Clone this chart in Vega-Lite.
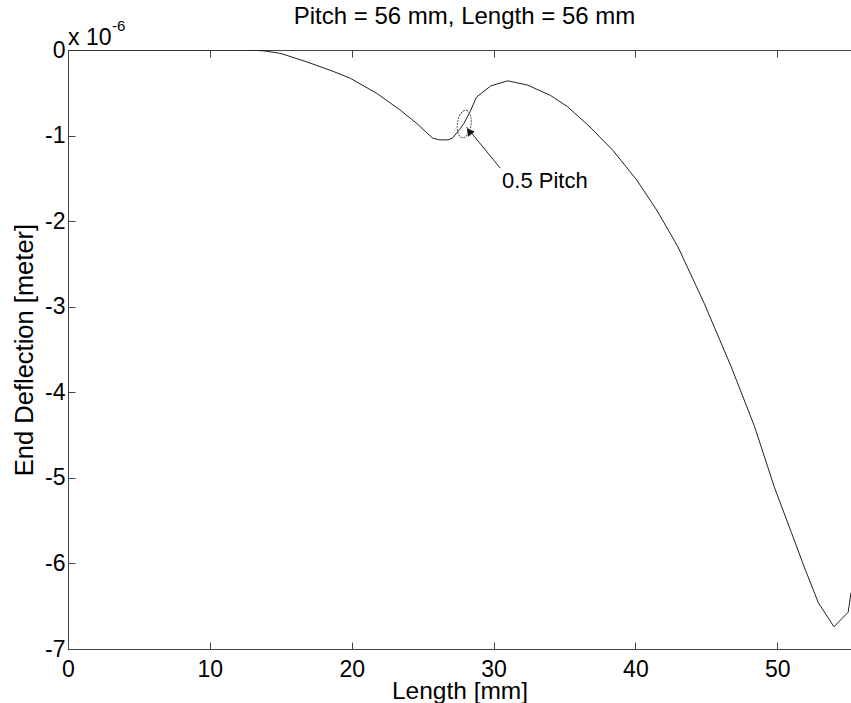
{
  "$schema": "https://vega.github.io/schema/vega-lite/v6.json",
  "autosize": "none",
  "width": 783,
  "height": 599,
  "padding": {"left": 68, "top": 50, "right": 0, "bottom": 54},
  "background": "white",
  "config": {
    "font": "Liberation Sans",
    "view": {"stroke": "#444", "strokeWidth": 1},
    "axis": {
      "domainColor": "#444",
      "tickColor": "#444",
      "labelColor": "black",
      "labelFont": "Liberation Sans",
      "labelFontSize": 23,
      "titleFont": "Liberation Sans",
      "titleFontSize": 24.5,
      "titleFontWeight": "normal",
      "titleColor": "black",
      "grid": false,
      "tickSize": -7,
      "labelFlush": false,
      "labelOverlap": false
    }
  },
  "title": {
    "text": "Pitch = 56 mm, Length = 56 mm",
    "fontSize": 24,
    "fontWeight": "normal",
    "font": "Liberation Sans",
    "color": "black",
    "anchor": "middle",
    "baseline": "alphabetic",
    "offset": -29,
    "dx": 5
  },
  "resolve": {"axis": {"x": "independent"}},
  "encoding": {
    "y": {
      "field": "deflection",
      "type": "quantitative",
      "scale": {"domain": [-7, 0], "nice": false, "zero": false},
      "axis": {
        "title": "End Deflection [meter]",
        "titleFontSize": 25.5,
        "values": [-7, -6, -5, -4, -3, -2, -1, 0],
        "labelExpr": "'' + datum.value",
        "labelPadding": 10,
        "titlePadding": 7
      }
    }
  },
  "layer": [
    {
      "data": {"values": [
        {"length": 0, "deflection": 0},
        {"length": 6, "deflection": 0},
        {"length": 12.6, "deflection": 0},
        {"length": 13.8, "deflection": -0.01},
        {"length": 15.0, "deflection": -0.04},
        {"length": 16.85, "deflection": -0.14},
        {"length": 18.7, "deflection": -0.25},
        {"length": 19.9, "deflection": -0.33},
        {"length": 21.8, "deflection": -0.51},
        {"length": 23.4, "deflection": -0.70},
        {"length": 24.6, "deflection": -0.86},
        {"length": 25.7, "deflection": -1.03},
        {"length": 26.2, "deflection": -1.05},
        {"length": 26.8, "deflection": -1.05},
        {"length": 27.1, "deflection": -1.03},
        {"length": 27.6, "deflection": -0.93},
        {"length": 27.9, "deflection": -0.86},
        {"length": 28.35, "deflection": -0.72},
        {"length": 28.8, "deflection": -0.55},
        {"length": 29.8, "deflection": -0.42},
        {"length": 31.0, "deflection": -0.36},
        {"length": 32.4, "deflection": -0.41},
        {"length": 34.0, "deflection": -0.53},
        {"length": 35.2, "deflection": -0.66},
        {"length": 36.8, "deflection": -0.90},
        {"length": 38.4, "deflection": -1.17},
        {"length": 40.1, "deflection": -1.52},
        {"length": 41.5, "deflection": -1.87},
        {"length": 43.0, "deflection": -2.30},
        {"length": 44.85, "deflection": -2.96},
        {"length": 46.75, "deflection": -3.70},
        {"length": 48.4, "deflection": -4.40},
        {"length": 49.8, "deflection": -5.11},
        {"length": 51.0, "deflection": -5.64},
        {"length": 51.9, "deflection": -6.04},
        {"length": 52.9, "deflection": -6.46},
        {"length": 54.0, "deflection": -6.74},
        {"length": 55.0, "deflection": -6.57},
        {"length": 55.2, "deflection": -6.34}
      ]},
      "mark": {"type": "line", "color": "#222", "strokeWidth": 1, "clip": true},
      "encoding": {
        "x": {
          "field": "length",
          "type": "quantitative",
          "scale": {"domain": [0, 55.2], "nice": false, "zero": false},
          "axis": {
            "title": "Length [mm]",
            "orient": "bottom",
            "values": [0, 10, 20, 30, 40, 50],
            "labelPadding": 16,
            "titlePadding": -2
          }
        }
      }
    },
    {
      "data": {"values": [{"length": 27.93, "deflection": -0.865}]},
      "mark": {
        "type": "point",
        "shape": "M0,-1A0.5,1 0 1,1 0,1A0.5,1 0 1,1 0,-1Z",
        "size": 760,
        "angle": 8,
        "filled": false,
        "stroke": "#555",
        "strokeWidth": 1,
        "strokeDash": [2, 1],
        "opacity": 1
      },
      "encoding": {
        "x": {
          "field": "length",
          "type": "quantitative",
          "axis": {
            "orient": "top",
            "title": null,
            "labels": false,
            "values": [0, 10, 20, 30, 40, 50],
            "domain": false
          }
        }
      }
    },
    {
      "data": {"values": [{"length": 30.47, "deflection": -1.38, "length2": 28.1, "deflection2": -0.9}]},
      "mark": {"type": "rule", "color": "#222", "strokeWidth": 1},
      "encoding": {
        "x": {"field": "length", "type": "quantitative", "axis": null},
        "x2": {"field": "length2"},
        "y2": {"field": "deflection2"}
      }
    },
    {
      "data": {"values": [{"length": 28.28, "deflection": -0.95}]},
      "mark": {"type": "point", "shape": "triangle-up", "size": 70, "angle": 321, "filled": true, "color": "#111", "opacity": 1},
      "encoding": {
        "x": {"field": "length", "type": "quantitative", "axis": null}
      }
    },
    {
      "data": {"values": [{"length": 30.6, "deflection": -1.61, "label": "0.5 Pitch"}]},
      "mark": {"type": "text", "align": "left", "baseline": "alphabetic", "fontSize": 22, "font": "Liberation Sans", "color": "black"},
      "encoding": {
        "x": {"field": "length", "type": "quantitative", "axis": null},
        "text": {"field": "label"}
      }
    },
    {
      "data": {"values": [{"length": 0, "deflection": 0, "label": "x 10"}]},
      "mark": {"type": "text", "align": "left", "baseline": "alphabetic", "fontSize": 23, "font": "Liberation Sans", "color": "black", "dy": -5, "clip": false},
      "encoding": {
        "x": {"field": "length", "type": "quantitative", "axis": null},
        "text": {"field": "label"}
      }
    },
    {
      "data": {"values": [{"length": 3.1, "deflection": 0, "label": "-6"}]},
      "mark": {"type": "text", "align": "left", "baseline": "alphabetic", "fontSize": 15, "font": "Liberation Sans", "color": "black", "dy": -19, "clip": false},
      "encoding": {
        "x": {"field": "length", "type": "quantitative", "axis": null},
        "text": {"field": "label"}
      }
    }
  ]
}
